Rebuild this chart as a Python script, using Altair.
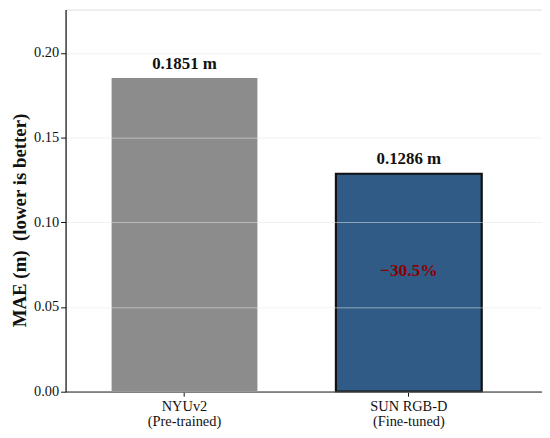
import altair as alt
import pandas as pd

models = ["NYUv2", "SUN RGB-D"]
subtitles = ["(Pre-trained)", "(Fine-tuned)"]
mae = [0.1851, 0.1286]
y_ticks = [0.0, 0.05, 0.10, 0.15, 0.20]

pct = (mae[1] - mae[0]) / mae[0] * 100
pct_label = "\u2212" + f"{abs(pct):.1f}%"

FONT = "'Liberation Serif', 'Times New Roman', serif"

df = pd.DataFrame({"model": models, "mae": mae})
df["label"] = [f"{v:.4f} m" for v in mae]
ann = pd.DataFrame({"model": [models[1]], "y": [mae[1] * 0.556], "text": [pct_label]})

label_map = "{" + ",".join(f"'{m}': ['{m}', '{s}']" for m, s in zip(models, subtitles)) + "}"

xscale = alt.Scale(domain=models, paddingInner=0.35, paddingOuter=0.237, align=0.433)
yscale = alt.Scale(domain=[0, 0.2255], nice=False)

x_enc = alt.X("model:N", scale=xscale, sort=models,
              axis=alt.Axis(title=None, labelAngle=0, labelExpr=f"{label_map}[datum.value]",
                            labelFont=FONT, labelFontSize=14.5, labelColor="#111",
                            labelLineHeight=16, labelPadding=3, tickSize=4.5,
                            tickColor="#111", domainColor="#111", domainWidth=1.2,
                            grid=False))

bars = alt.Chart(df).mark_bar().encode(
    x=x_enc,
    y=alt.Y("mae:Q", scale=yscale,
            axis=alt.Axis(title="MAE (m)\u00a0 (lower is better)", values=y_ticks, format=".2f",
                          labelFont=FONT, labelFontSize=14.5, labelColor="#111",
                          labelPadding=2, tickSize=5, tickColor="#111",
                          domainColor="#111", domainWidth=1.2,
                          grid=True, gridColor="#e6e6e6", gridOpacity=0.55, gridWidth=1,
                          titleFont=FONT, titleFontSize=19, titleFontWeight="bold",
                          titleColor="#111", titleX=-46, titleY=212,
                          titleBaseline="middle", titleAlign="center", zindex=1)),
    color=alt.Color("model:N", scale=alt.Scale(domain=models, range=["#8c8c8c", "#2f5b86"]),
                    legend=None),
    stroke=alt.value("#111111"),
    strokeWidth=alt.condition(alt.datum.model == models[1], alt.value(2.2), alt.value(0)),
)

labels = alt.Chart(df).mark_text(font=FONT, fontSize=17, fontWeight="bold", color="#111",
                                 baseline="alphabetic", dy=-9.5).encode(
    x=alt.X("model:N", scale=xscale, sort=models),
    y=alt.Y("mae:Q", scale=yscale),
    text="label:N",
)

pct_text = alt.Chart(ann).mark_text(font=FONT, fontSize=17.5, fontWeight="bold", color="#8b0000",
                                    baseline="middle").encode(
    x=alt.X("model:N", scale=xscale, sort=models),
    y=alt.Y("y:Q", scale=yscale),
    text="text:N",
)

chart = alt.layer(bars, labels, pct_text).properties(
    width=480, height=385,
    autosize=alt.AutoSizeParams(type="none"),
    padding={"left": 58, "top": 0, "right": 0, "bottom": 37},
).configure_view(stroke=None).configure(background="white", font=FONT).configure_axis(
    labelFont=FONT, titleFont=FONT
).configure_text(font=FONT)

chart.save("out.html", embed_options={"renderer": "svg", "actions": False})
